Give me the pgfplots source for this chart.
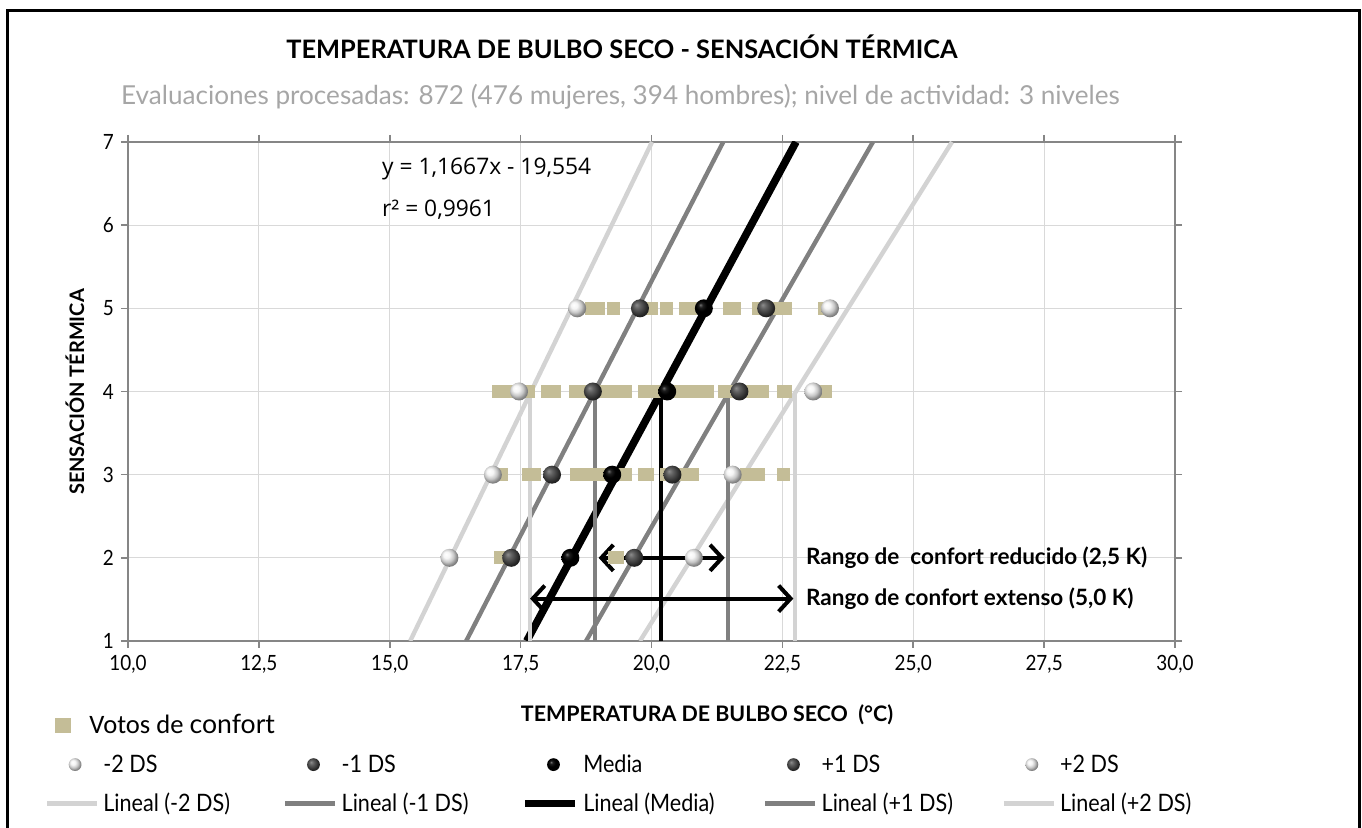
\documentclass[border=0pt]{standalone}
\usepackage{fontspec}
\setmainfont{Lato}
\newfontfamily\narrowfont[FakeStretch=0.9]{Lato}
\newfontfamily\eqfont{Open Sans}
\newfontfamily\calfont{Carlito}
\usepackage{pgfplots}
\pgfplotsset{compat=1.18}
\usetikzlibrary{arrows.meta}

\definecolor{tan}{HTML}{C4BD97}
\definecolor{lgray}{HTML}{D3D3D3}
\definecolor{mgray}{HTML}{808080}
\definecolor{gridgray}{HTML}{D9D9D9}
\definecolor{axisgray}{HTML}{868686}
\definecolor{subgray}{HTML}{A6A6A6}

% sphere shadings and marks
\pgfdeclareradialshading{sphW}{\pgfpoint{-10bp}{10bp}}{color(0bp)=(white); color(9bp)=(white!96!black); color(18bp)=(white!78!black); color(25bp)=(white!55!black); color(50bp)=(black)}
\pgfdeclareradialshading{sphG}{\pgfpoint{-10bp}{10bp}}{color(0bp)=(white!55!black); color(9bp)=(white!38!black); color(18bp)=(white!25!black); color(25bp)=(white!15!black); color(50bp)=(black)}
\pgfdeclareradialshading{sphK}{\pgfpoint{-10bp}{10bp}}{color(0bp)=(white!45!black); color(6bp)=(white!12!black); color(15bp)=(black); color(50bp)=(black)}
\pgfdeclareplotmark{ballW}{\pgfpathcircle{\pgfpointorigin}{\pgfplotmarksize}\pgfshadepath{sphW}{0}\pgfusepath{}}
\pgfdeclareplotmark{ballG}{\pgfpathcircle{\pgfpointorigin}{\pgfplotmarksize}\pgfshadepath{sphG}{0}\pgfusepath{}}
\pgfdeclareplotmark{ballK}{\pgfpathcircle{\pgfpointorigin}{\pgfplotmarksize}\pgfshadepath{sphK}{0}\pgfusepath{}}

\newcommand{\legtxt}[1]{\makebox[88pt][l]{\rule[-3pt]{0pt}{12pt}\narrowfont #1}}

\pgfplotsset{
  ballleg/.style={legend image code/.code={\draw[##1, mark size=3.2pt] plot coordinates {(14pt,0pt)}; \path (0pt,0pt) (25pt,0pt);}},
  sqleg/.style={legend image code/.code={\draw[##1, mark size=3.7pt] plot coordinates {(8pt,0pt)}; \path (0pt,0pt) (25pt,0pt);}},
  lineleg/.style={legend image code/.code={\draw[##1] (0pt,0pt) -- (25pt,0pt);}},
}

\begin{document}
\begin{tikzpicture}
\begin{axis}[
  width=523.5pt, height=249.5pt, scale only axis,
  at={(0pt,0pt)}, anchor=south west,
  xmin=10, xmax=30, ymin=1, ymax=7,
  xtick={10,12.5,15,17.5,20,22.5,25,27.5,30},
  ytick={1,2,3,4,5,6,7},
  xticklabel style={/pgf/number format/.cd, fixed, fixed zerofill, precision=1, use comma},
  /pgf/number format/assume math mode=true,
  tick label style={font=\fontsize{10.5}{12}\selectfont\narrowfont},
  grid=major,
  major grid style={gridgray, line width=0.6pt},
  axis line style={axisgray, line width=0.8pt},
  tick style={axisgray, line width=0.8pt},
  tick align=outside, major tick length=3.5pt,
  legend columns=5,
  legend cell align=left,
  legend style={at={(-0.0855,-0.130)}, anchor=north west, draw=none, fill=none,
    font=\fontsize{12}{14}\selectfont, column sep=0pt, row sep=4.75pt},
]

% comfort votes
\addplot[only marks, mark=square*, mark size=3pt, color=tan, mark options={draw=tan, fill=tan}, sqleg]
coordinates {
(18.85,5) (18.99,5) (19.28,5) (19.99,5) (20.28,5) (20.64,5) (20.75,5)
(21.48,5) (21.58,5) (22.04,5) (22.20,5) (22.36,5) (22.55,5) (23.30,5)
(17.08,4) (17.28,4) (17.47,4) (17.65,4) (18.02,4) (18.15,4)
(18.55,4) (18.75,4) (18.95,4) (19.15,4) (19.35,4) (19.50,4)
(19.87,4) (20.07,4) (20.27,4) (20.47,4) (20.67,4) (20.87,4) (21.07,4)
(21.40,4) (21.60,4) (21.80,4) (22.00,4) (22.11,4) (22.52,4) (22.55,4)
(23.25,4) (23.33,4)
(17.03,3) (17.13,3) (17.65,3) (17.77,3)
(18.56,3) (18.76,3) (18.96,3) (19.16,3) (19.36,3) (19.50,3)
(19.87,3) (19.92,3) (20.29,3) (20.49,3) (20.69,3) (20.78,3)
(21.82,3) (22.04,3) (22.52,3)
(17.12,2) (17.29,2) (19.30,2) (19.35,2)
};
\addlegendentry{\makebox[88pt][l]{\hspace*{-7pt}\fontsize{13.3}{15}\selectfont\calfont Votos de \rmfamily confort}}
\addlegendimage{empty legend}\addlegendentry{}
\addlegendimage{empty legend}\addlegendentry{}
\addlegendimage{empty legend}\addlegendentry{}
\addlegendimage{empty legend}\addlegendentry{}

% spheres
\addplot[only marks, mark=ballW, mark size=4.5pt, ballleg] coordinates {(16.14,2) (16.97,3) (17.47,4) (18.58,5)};
\addlegendentry{\legtxt{-2 DS}}
\addplot[only marks, mark=ballG, mark size=4.5pt, ballleg] coordinates {(17.32,2) (18.10,3) (18.88,4) (19.78,5)};
\addlegendentry{\legtxt{-1 DS}}
\addplot[only marks, mark=ballK, mark size=4.5pt, ballleg] coordinates {(18.45,2) (19.25,3) (20.30,4) (21.00,5)};
\addlegendentry{\legtxt{Media}}
\addplot[only marks, mark=ballG, mark size=4.5pt, ballleg] coordinates {(19.67,2) (20.40,3) (21.68,4) (22.19,5)};
\addlegendentry{\legtxt{+1 DS}}
\addplot[only marks, mark=ballW, mark size=4.5pt, ballleg] coordinates {(20.81,2) (21.55,3) (23.09,4) (23.41,5)};
\addlegendentry{\legtxt{+2 DS}}

% trend lines
\addplot[lgray, line width=2.2pt, no markers, lineleg] coordinates {(15.39,1) (20.01,7)};
\addlegendentry{\legtxt{Lineal (-2 DS)}}
\addplot[mgray, line width=2.2pt, no markers, lineleg] coordinates {(16.46,1) (21.37,7)};
\addlegendentry{\legtxt{Lineal (-1 DS)}}
\addplot[black, line width=3.8pt, no markers, lineleg] coordinates {(17.617,1) (22.760,7)};
\addlegendentry{\legtxt{Lineal (Media)}}
\addplot[mgray, line width=2.2pt, no markers, lineleg] coordinates {(18.75,1) (24.23,7)};
\addlegendentry{\legtxt{Lineal (+1 DS)}}
\addplot[lgray, line width=2.2pt, no markers, lineleg] coordinates {(19.78,1) (25.74,7)};
\addlegendentry{\legtxt{Lineal (+2 DS)}}

% verticals at neutral vote
\addplot[lgray, line width=2pt, forget plot] coordinates {(17.68,1) (17.68,4)};
\addplot[mgray, line width=2pt, forget plot] coordinates {(18.93,1) (18.93,4)};
\addplot[black, line width=2pt, forget plot] coordinates {(20.19,1) (20.19,4)};
\addplot[mgray, line width=2pt, forget plot] coordinates {(21.46,1) (21.46,4)};
\addplot[lgray, line width=2pt, forget plot] coordinates {(22.74,1) (22.74,4)};

% comfort ranges
\addplot[black, line width=2pt, forget plot, {Straight Barb[length=6pt,width=13pt]}-{Straight Barb[length=6pt,width=13pt]}]
  coordinates {(18.99,2) (21.40,2)};
\addplot[black, line width=2pt, forget plot, {Straight Barb[length=6pt,width=13pt]}-{Straight Barb[length=6pt,width=13pt]}]
  coordinates {(17.68,1.51) (22.71,1.51)};

\node[anchor=west, font=\fontsize{11.25}{13}\selectfont\bfseries] at (axis cs:22.82,2) {Rango de\ \ confort reducido (2,5 K)};
\node[anchor=west, font=\fontsize{11.25}{13}\selectfont\bfseries] at (axis cs:22.82,1.51) {Rango de confort extenso (5,0 K)};
\node[anchor=west, font=\fontsize{11.4}{13}\selectfont\eqfont] at (axis cs:14.72,6.67) {y = 1,1667x - 19,554};
\node[anchor=west, font=\fontsize{11.4}{13}\selectfont\eqfont] at (axis cs:14.72,6.19) {r² = 0,9961};
\end{axis}

% titles and axis names
\node[font=\fontsize{12.7}{15}\selectfont\bfseries] at (247pt,297pt) {TEMPERATURA DE BULBO SECO - SENSACIÓN TÉRMICA};
\node[font=\fontsize{13.06}{15}\selectfont, text=subgray] at (246.25pt,272pt) {Evaluaciones procesadas: 872 (476 mujeres, 394 hombres); nivel de actividad: 3 niveles};
\node[font=\fontsize{10}{12}\selectfont\bfseries, rotate=90] at (-26.5pt,124.5pt) {SENSACIÓN TÉRMICA};
\node[font=\fontsize{10.7}{12}\selectfont\bfseries] at (289.5pt,-37pt) {TEMPERATURA DE BULBO SECO\ \ (°C)};

% frame
\draw[black, line width=1.5pt] (-60pt,-100pt) -- (-60pt,315pt) -- (615.5pt,315pt) -- (615.5pt,-100pt);

\pgfresetboundingbox
\path[use as bounding box] (-64pt,-93.5pt) rectangle (617pt,320.5pt);
\end{tikzpicture}
\end{document}
